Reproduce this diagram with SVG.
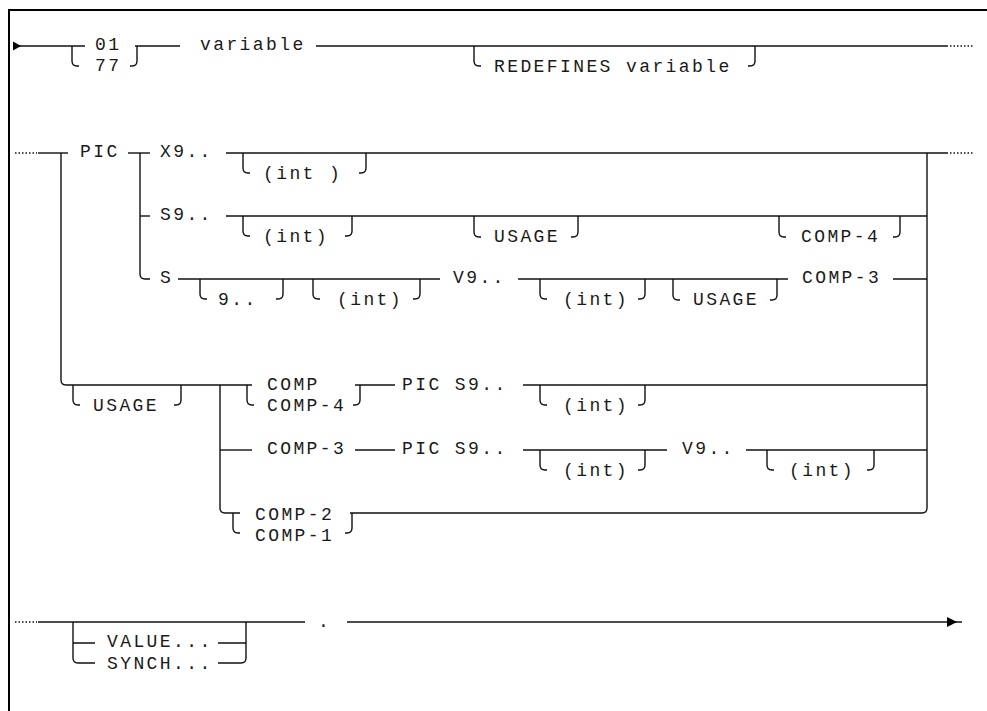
<svg xmlns="http://www.w3.org/2000/svg" width="987" height="711" viewBox="0 0 987 711">
<style>
.t{font-family:"Liberation Mono","DejaVu Sans Mono",monospace;font-size:18px;letter-spacing:2.4px;fill:#1a1a1a}
.l{fill:none;stroke:#111;stroke-width:1.4}
.d{fill:none;stroke:#111;stroke-width:1.4;stroke-dasharray:1.5 2}
.f{fill:none;stroke:#000;stroke-width:2}
</style>
<rect width="987" height="711" fill="#fff"/>
<path class="f" d="M9,711 V10 H987"/>

<g id="connectors">
<!-- row 1 -->
<path class="l" d="M13,46 H85"/>
<path d="M13,41.5 L21,46 L13,50.5 Z" fill="#000"/>
<path class="l" d="M135,46 H180"/>
<path class="l" d="M316,46 H948"/>
<path class="d" d="M950,46 H973"/>
<!-- row 2 -->
<path class="d" d="M15,153 H37"/>
<path class="l" d="M38,153 H68"/>
<path class="l" d="M61,153 V380 Q61,385 66,385 H252"/>
<path class="l" d="M128,153 H150"/>
<path class="l" d="M140,153 V274 Q140,279 145,279 H150"/>
<path class="l" d="M140,216 H150"/>
<path class="l" d="M226,153 H948"/>
<path class="d" d="M950,153 H973"/>
<path class="l" d="M226,216 H927"/>
<path class="l" d="M178,279 H440"/>
<path class="l" d="M518,279 H788"/>
<path class="l" d="M893,279 H927"/>
<path class="l" d="M927,153 V508 Q927,513 922,513 H350"/>
<!-- usage rows -->
<path class="l" d="M220,385 V508 Q220,513 225,513 H240"/>
<path class="l" d="M220,450 H252"/>
<path class="l" d="M355,385 H395"/>
<path class="l" d="M523,385 H927"/>
<path class="l" d="M355,450 H395"/>
<path class="l" d="M523,450 H667"/>
<path class="l" d="M746,450 H927"/>
<!-- row 4 -->
<path class="d" d="M15,622 H37"/>
<path class="l" d="M38,622 H305"/>
<path class="l" d="M73,622 V658 Q73,663 78,663 H95 M73,643 H95"/>
<path class="l" d="M246,622 V658 Q246,663 241,663 H218 M246,643 H218"/>
<path class="l" d="M347,622 H962"/>
<path d="M947,617 L957,622 L947,627 Z" fill="#000"/>
</g>

<g id="n-level">
<path class="l" d="M72,46 V61 Q72,66 77,66 H79"/>
<text class="t" x="95" y="50">01</text>
<text class="t" x="95" y="71">77</text>
<path class="l" d="M137,46 V61 Q137,66 132,66 H130"/>
</g>
<g id="n-variable"><text class="t" x="200" y="50">variable</text></g>
<g id="n-redefines">
<path class="l" d="M474,46 V61 Q474,66 479,66 H481"/>
<text class="t" x="494" y="72">REDEFINES variable</text>
<path class="l" d="M755,46 V61 Q755,66 750,66 H748"/>
</g>

<g id="n-pic"><text class="t" x="80" y="157">PIC</text></g>
<g id="n-x9"><text class="t" x="160" y="157">X9..</text></g>
<g id="n-x9-int">
<path class="l" d="M243,153 V168 Q243,173 248,173 H250"/>
<text class="t" x="263" y="179">(int )</text>
<path class="l" d="M366,153 V168 Q366,173 361,173 H359"/>
</g>

<g id="n-s9"><text class="t" x="160" y="220">S9..</text></g>
<g id="n-s9-int">
<path class="l" d="M243,216 V231 Q243,236 248,236 H250"/>
<text class="t" x="263" y="242">(int)</text>
<path class="l" d="M352,216 V231 Q352,236 347,236 H345"/>
</g>
<g id="n-s9-usage">
<path class="l" d="M474,216 V232 Q474,237 479,237 H481"/>
<text class="t" x="494" y="242">USAGE</text>
<path class="l" d="M578,216 V232 Q578,237 573,237 H571"/>
</g>
<g id="n-s9-comp4">
<path class="l" d="M779,216 V232 Q779,237 784,237 H786"/>
<text class="t" x="801" y="242">COMP-4</text>
<path class="l" d="M900,216 V232 Q900,237 895,237 H893"/>
</g>

<g id="n-s"><text class="t" x="160" y="283">S</text></g>
<g id="n-s-9">
<path class="l" d="M200,279 V294 Q200,299 205,299 H207"/>
<text class="t" x="218" y="305">9..</text>
<path class="l" d="M283,279 V294 Q283,299 278,299 H276"/>
</g>
<g id="n-s-int">
<path class="l" d="M313,279 V294 Q313,299 318,299 H320"/>
<text class="t" x="337" y="305">(int)</text>
<path class="l" d="M420,279 V294 Q420,299 415,299 H413"/>
</g>
<g id="n-s-v9"><text class="t" x="453" y="283">V9..</text></g>
<g id="n-s-v9-int">
<path class="l" d="M540,279 V294 Q540,299 545,299 H547"/>
<text class="t" x="563" y="305">(int)</text>
<path class="l" d="M645,279 V294 Q645,299 640,299 H638"/>
</g>
<g id="n-s-usage">
<path class="l" d="M673,279 V295 Q673,300 678,300 H680"/>
<text class="t" x="693" y="305">USAGE</text>
<path class="l" d="M777,279 V295 Q777,300 772,300 H770"/>
</g>
<g id="n-s-comp3"><text class="t" x="802" y="283">COMP-3</text></g>

<g id="n-usage">
<path class="l" d="M73,385 V400 Q73,405 78,405 H80"/>
<text class="t" x="93" y="411">USAGE</text>
<path class="l" d="M181,385 V400 Q181,405 176,405 H174"/>
</g>
<g id="n-comp">
<path class="l" d="M247,385 V400 Q247,405 252,405 H254"/>
<text class="t" x="267" y="390">COMP</text>
<text class="t" x="267" y="411">COMP-4</text>
<path class="l" d="M360,385 V400 Q360,405 355,405 H353"/>
</g>
<g id="n-comp-pic"><text class="t" x="402" y="390">PIC S9..</text></g>
<g id="n-comp-int">
<path class="l" d="M540,385 V400 Q540,405 545,405 H547"/>
<text class="t" x="563" y="411">(int)</text>
<path class="l" d="M645,385 V400 Q645,405 640,405 H638"/>
</g>

<g id="n-comp3"><text class="t" x="267" y="454">COMP-3</text></g>
<g id="n-comp3-pic"><text class="t" x="402" y="454">PIC S9..</text></g>
<g id="n-comp3-int">
<path class="l" d="M540,450 V465 Q540,470 545,470 H547"/>
<text class="t" x="563" y="476">(int)</text>
<path class="l" d="M645,450 V465 Q645,470 640,470 H638"/>
</g>
<g id="n-comp3-v9"><text class="t" x="682" y="454">V9..</text></g>
<g id="n-comp3-v9-int">
<path class="l" d="M767,450 V465 Q767,470 772,470 H774"/>
<text class="t" x="789" y="476">(int)</text>
<path class="l" d="M874,450 V465 Q874,470 869,470 H867"/>
</g>

<g id="n-comp2">
<path class="l" d="M233,513 V528 Q233,533 238,533 H240"/>
<text class="t" x="255" y="520">COMP-2</text>
<text class="t" x="255" y="541">COMP-1</text>
<path class="l" d="M352,513 V528 Q352,533 347,533 H345"/>
</g>

<g id="n-value">
<text class="t" x="107" y="647">VALUE...</text>
<text class="t" x="107" y="669">SYNCH...</text>
</g>
<g id="n-period"><text class="t" x="318" y="627">.</text></g>
</svg>
